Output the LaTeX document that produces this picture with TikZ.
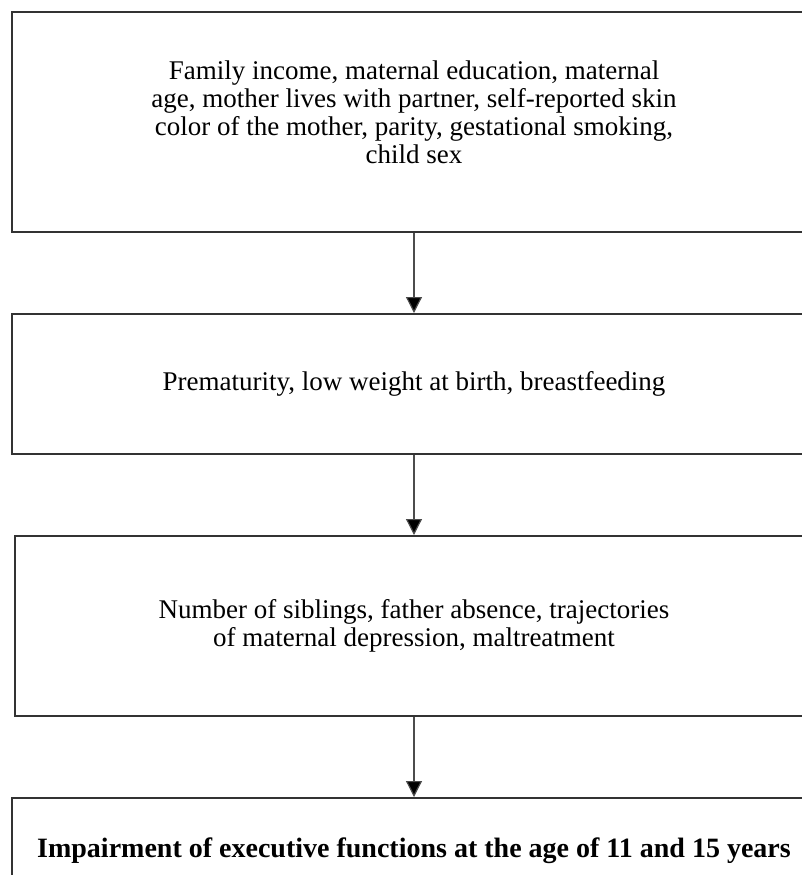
\documentclass[tikz,border=0pt]{standalone}
\usepackage{fontspec}
\setmainfont{Liberation Serif}
\usetikzlibrary{positioning,arrows.meta}
\begin{document}
\begin{tikzpicture}[x=0.5pt,y=-0.5pt,node distance={40pt},main/.style = {draw=black!80, line width=1pt, rectangle, align=center, font=\fontsize{13.5pt}{13.9pt}\selectfont}, link/.style = {draw=black!70, line width=0.6pt, -{Triangle[width=8pt,length=8pt,fill=black]}}]
			\useasboundingbox (0,0) rectangle (802,875);
			
			\node[main] (1) [anchor=north west,minimum width=402pt,minimum height=110pt] at (11,11) {Family income, maternal education, maternal\\ age, mother lives with partner, self-reported skin\\ color of the mother, parity, gestational smoking,\\ child sex\\[-4pt]};
			
			\node[main] (2) [minimum width=402pt,minimum height=70pt,below=of 1] {Prematurity, low weight at birth, breastfeeding};
			
			\node[main] (3) [minimum width=399pt,minimum height=90pt,below=of 2] {Number of siblings, father absence, trajectories\\ of maternal depression, maltreatment};
			
			\node[main] (4) [minimum width=402pt,minimum height=53pt,below=of 3,font=\fontsize{14pt}{15pt}\selectfont\bfseries] {Impairment of executive functions at the age of 11 and 15 years};
			
			\draw[link] (1)--(2);
			\draw[link] (2)--(3);
			\draw[link] (3)--(4);
			
		\end{tikzpicture}
\end{document}
